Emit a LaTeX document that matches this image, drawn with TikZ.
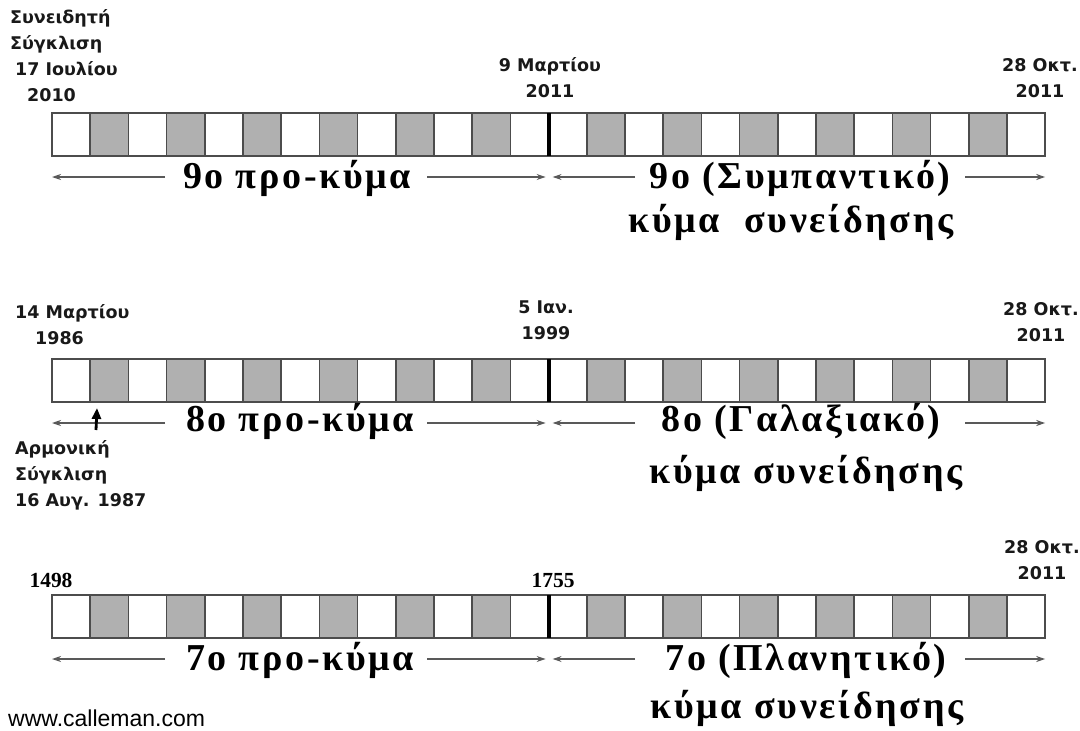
\documentclass[tikz,border=0pt]{standalone}
\usepackage{fontspec}
\setmainfont{Liberation Serif}
\setsansfont{Liberation Sans}
\newfontfamily\wavefont[LetterSpace=7]{Liberation Serif}
\newfontfamily\datefont{DejaVu Sans}
\usetikzlibrary{arrows.meta, positioning}

\begin{document}
\begin{tikzpicture}[x=1pt, y=-1pt, >={Stealth[length=9pt,width=6pt]}, line join=miter]

% --------- στυλ ----------
\tikzset{
  cell/.style={draw=black!70, line width=1.5pt, fill=white},
  shade/.style={cell, fill=black!31},
  ray/.style={->, line width=1.3pt, black!65},
  pin/.style={-{Triangle[length=11pt,width=9pt]}, line width=2.8pt, black},
  wave/.style={font=\wavefont\bfseries\fontsize{38}{42}\selectfont, inner sep=0pt, anchor=base},
  date/.style={font=\datefont\bfseries\fontsize{17.5}{26}\selectfont, text=black!90, inner sep=0pt, align=center, anchor=south},
  year/.style={font=\rmfamily\bfseries\fontsize{21.5}{24}\selectfont, inner sep=0pt, anchor=base}
}
\def\L{52}     % αριστερό άκρο
\def\w{38.2}   % πλάτος κελιού
\def\h{43}     % ύψος κελιού

% σειρά 2x13 κελιών + βέλη
\def\cellrow#1{%
  \foreach \i in {0,...,25}{
    \pgfmathtruncatemacro\k{mod(\i,13)}
    \ifodd\k \def\cellkind{shade}\else\def\cellkind{cell}\fi
    \draw[\cellkind] (\L+\i*\w,0) rectangle ++(\w,\h);
  }
  \draw[line width=4pt] (\L+13*\w,0) -- ++(0,\h);
  \coordinate (r#1L) at (\L,64);
  \coordinate (r#1a) at (165,64);
  \coordinate (r#1b) at (427,64);
  \coordinate (r#1m) at (\L+13*\w-3,64);
  \coordinate (r#1n) at (\L+13*\w+4,64);
  \coordinate (r#1c) at (635,64);
  \coordinate (r#1d) at (965,64);
  \coordinate (r#1R) at (\L+26*\w,64);
  \draw[ray] (r#1a) -- (r#1L);
  \draw[ray] (r#1b) -- (r#1m);
  \draw[ray] (r#1c) -- (r#1n);
  \draw[ray] (r#1d) -- (r#1R);
}

\useasboundingbox (0,0) rectangle (1080,731);

% ===================== 9ο κύμα =====================
\begin{scope}[shift={(0,113)}]
  \cellrow{1}
  \node[wave] (pre1) at (297,75) {9ο προ-κύμα};
  \node[wave] (main1) at (800,75) {9ο (Συμπαντικό)};
  \node[wave] (sub1) at (791,119) {κύμα\ \ συνείδησης};
\end{scope}
\node[date, align=left, anchor=south west] (conscious) at (10,102)
  {Συνειδητή\\Σύγκλιση\\\hspace*{5pt}17 Ιουλίου\\\hspace*{17pt}2010};
\node[date] (mar2011) at (550,98) {9 Μαρτίου\\2011};
\node[date] (oct1) at (1040,98) {28 Οκτ.\\2011};

% ===================== 8ο κύμα =====================
\begin{scope}[shift={(0,359)}]
  \cellrow{2}
  \node[wave] (pre2) at (300,72) {8ο προ-κύμα};
  \node[wave] (main2) at (801,72) {8ο (Γαλαξιακό)};
  \node[wave] (sub2) at (806,124) {κύμα συνείδησης};
\end{scope}
\node[date, align=left, anchor=south west] (mar1986) at (15,345)
  {14 Μαρτίου\\\hspace*{20pt}1986};
\node[date] (jan1999) at (546,340) {5 Ιαν.\\1999};
\node[date] (oct2) at (1041,342) {28 Οκτ.\\2011};
% αρμονική σύγκλιση
\coordinate (h1) at (97,408);
\coordinate (h0) at (96,430);
\draw[pin] (h0) -- (h1);
\node[date, align=left, anchor=north west] (harmonic) at (15,440)
  {Αρμονική\\Σύγκλιση\\16 Αυγ. 1987};

% ===================== 7ο κύμα =====================
\begin{scope}[shift={(0,595)}]
  \cellrow{3}
  \node[wave] (pre3) at (300,75) {7ο προ-κύμα};
  \node[wave] (main3) at (806,75) {7ο (Πλανητικό)};
  \node[wave] (sub3) at (807,123) {κύμα συνείδησης};
\end{scope}
\node[year] (y1498) at (51,587) {1498};
\node[year] (y1755) at (553,587) {1755};
\node[date] (oct3) at (1042,580) {28 Οκτ.\\2011};

% πηγή
\node[font=\sffamily\fontsize{23}{26}\selectfont, anchor=base west, inner sep=0pt] (site) at (8,726) {www.calleman.com};

\end{tikzpicture}
\end{document}
